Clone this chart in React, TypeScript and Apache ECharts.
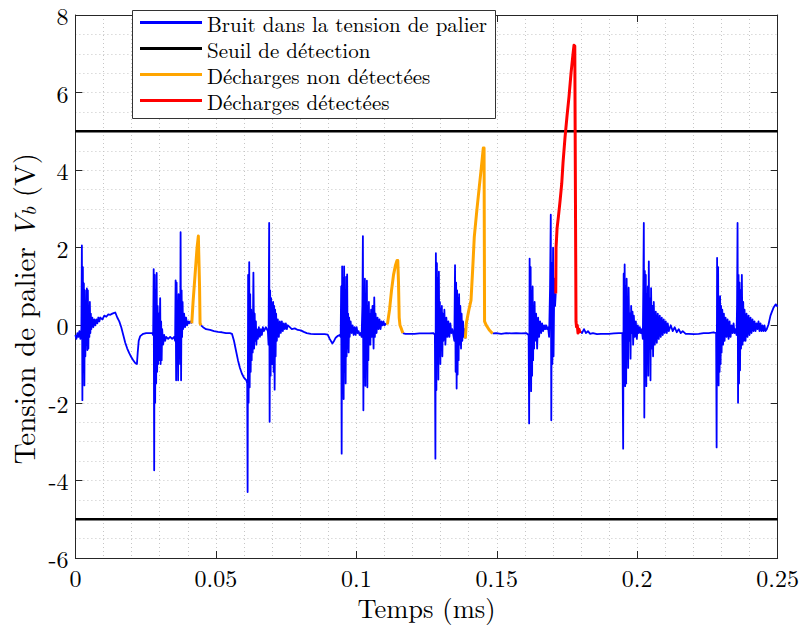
import React, { useEffect, useRef } from 'react';
import * as echarts from 'echarts';

// Time in ms, voltage in V
const noiseSeg1: [number, number][] = [
  [0, -0.25], [0.00036, -0.35], [0.00071, -0.2], [0.00107, -0.3], [0.00142, -0.15], [0.00178, -0.35],
  [0.00213, -0.1], [0.00231, 2.06], [0.00249, -1.93], [0.00266, 1.5], [0.00284, -1.2], [0.00302, 1.08],
  [0.0032, -1.55], [0.00337, 0.9], [0.00355, -0.8], [0.00373, 0.6], [0.00391, -0.5], [0.00408, 0.95],
  [0.00426, -0.64], [0.00444, 0.9], [0.00462, -0.6], [0.00479, 0.5], [0.00497, -0.3], [0.00515, 0.6],
  [0.00533, -0.2], [0.0055, 0.3], [0.00568, -0.1], [0.00604, 0.2], [0.00639, -0.05], [0.00675, 0.15],
  [0.0071, 0.0], [0.00746, 0.15], [0.00781, 0.05], [0.00817, 0.2], [0.00852, 0.1], [0.00888, 0.2],
  [0.00959, 0.15], [0.0103, 0.25], [0.011, 0.22], [0.01172, 0.28], [0.01243, 0.27], [0.01314, 0.3],
  [0.01385, 0.32], [0.0142, 0.33], [0.01491, 0.2], [0.01562, 0.1], [0.01633, -0.05], [0.01704, -0.25],
  [0.01775, -0.45], [0.01846, -0.6], [0.01917, -0.72], [0.01988, -0.82], [0.02059, -0.9], [0.0213, -0.97],
  [0.0219, -1.0], [0.02219, -0.7], [0.02254, -0.4], [0.02308, -0.28], [0.02414, -0.22], [0.02521, -0.2],
  [0.02627, -0.2], [0.02734, -0.2], [0.02769, -0.25], [0.02787, 1.45], [0.02805, -3.74], [0.02822, 1.3],
  [0.0284, -2.0], [0.02858, 0.9], [0.02876, -1.5], [0.02893, 1.35], [0.02911, -1.2], [0.02929, 0.5],
  [0.02947, -1.0], [0.02964, 0.3], [0.02982, -0.9], [0.03018, 0.7], [0.03035, -1.0], [0.03053, 0.1],
  [0.03071, -0.9], [0.03089, -0.1], [0.03124, -0.5], [0.0316, -0.25], [0.03195, -0.4], [0.03231, -0.3],
  [0.03302, -0.35], [0.03373, -0.3], [0.03444, -0.35], [0.03515, -0.3], [0.0355, -0.4], [0.03568, 1.16],
  [0.03586, -1.42], [0.03603, 1.1], [0.03621, -0.5], [0.03639, 0.6], [0.03657, -1.42], [0.03674, 0.8],
  [0.03692, -0.2], [0.0371, 0.3], [0.03728, -1.0], [0.03745, 2.4], [0.03763, -1.42], [0.03781, 0.9],
  [0.03799, -0.3], [0.03816, 0.6], [0.03834, -0.1], [0.0387, 0.3], [0.03905, -0.05], [0.03941, 0.2],
  [0.03976, 0.0], [0.04012, 0.1], [0.04047, 0.05], [0.04083, 0.1], [0.04143, 0.05],
];

const noiseSeg2: [number, number][] = [
  [0.04473, 0.0], [0.04544, -0.05], [0.04651, -0.1], [0.04793, -0.12], [0.04935, -0.15], [0.05077, -0.17],
  [0.05219, -0.18], [0.0536, -0.2], [0.05503, -0.2], [0.05574, -0.22], [0.05645, -0.4], [0.05716, -0.65],
  [0.05787, -0.9], [0.05858, -1.1], [0.05929, -1.25], [0.06, -1.35], [0.06088, -1.42], [0.06117, -1.5],
  [0.06131, -4.3], [0.06149, 1.3], [0.06166, -2.0], [0.06188, 1.63], [0.06205, -1.6], [0.06223, 0.8],
  [0.06241, -1.2], [0.06259, 0.4], [0.06276, -0.9], [0.06294, 0.3], [0.06312, -0.7], [0.06337, 1.36],
  [0.06362, -0.6], [0.06383, 0.3], [0.06401, -0.4], [0.06426, 0.1], [0.06443, -0.5], [0.06461, -0.1],
  [0.06497, -0.35], [0.06532, -0.05], [0.06568, -0.3], [0.06603, -0.1], [0.06639, -0.25], [0.06674, -0.05],
  [0.0671, -0.15], [0.06781, -0.05], [0.06852, -0.15], [0.06876, -0.5], [0.06898, 2.64], [0.06915, -2.49],
  [0.06933, 0.9], [0.06951, -1.3], [0.06969, 0.7], [0.06986, -1.0], [0.07004, 0.56], [0.07022, -1.0],
  [0.0704, 0.6], [0.07057, -1.2], [0.07075, 0.5], [0.07093, -1.66], [0.07111, 0.4], [0.07128, -0.8],
  [0.07146, 0.3], [0.07171, -0.4], [0.07207, 0.15], [0.07242, -0.3], [0.07278, 0.1], [0.07313, -0.2],
  [0.07349, 0.1], [0.07384, -0.15], [0.0742, 0.05], [0.07455, -0.1], [0.07491, 0.05], [0.07526, -0.1],
  [0.07562, 0.0], [0.07633, -0.05], [0.07704, -0.1], [0.0781, -0.08], [0.07917, -0.12], [0.08023, -0.13],
  [0.0813, -0.17], [0.08236, -0.2], [0.08378, -0.22], [0.0852, -0.23], [0.08698, -0.23], [0.08875, -0.23],
  [0.08982, -0.24], [0.09053, -0.35], [0.09148, -0.47], [0.09195, -0.42], [0.09266, -0.32], [0.09347, -0.27],
  [0.09408, -0.25], [0.09443, -0.3], [0.09461, 1.0], [0.09479, -3.31], [0.09496, 1.52], [0.09514, -1.5],
  [0.09532, 1.2], [0.0955, -1.9], [0.09567, 1.52], [0.09585, -1.2], [0.09603, 0.9], [0.09621, -1.5],
  [0.09638, 1.25], [0.09656, -0.8], [0.09674, 1.31], [0.09692, -0.6], [0.09709, 0.3], [0.09727, -0.7],
  [0.09745, 0.2], [0.09763, -0.3], [0.09798, 0.1], [0.09834, -0.2], [0.09869, 0.0], [0.09905, -0.25],
  [0.0994, -0.05], [0.09976, -0.25], [0.10011, -0.05], [0.10047, -0.2], [0.10082, -0.15], [0.10118, -0.25],
  [0.10153, -0.2], [0.10189, -0.3], [0.10217, 0.5], [0.10235, 2.3], [0.10252, -2.19], [0.1027, 0.9],
  [0.10288, -1.0], [0.10306, 1.2], [0.10323, -1.56], [0.10341, 0.7], [0.10359, -0.4], [0.10377, 1.15],
  [0.10394, -1.6], [0.10412, 0.5], [0.1043, -0.9], [0.10448, 0.6], [0.10465, -0.5], [0.10483, 0.3],
  [0.10501, -0.5], [0.10526, 0.4], [0.10544, -0.3], [0.10579, 0.5], [0.10615, -0.6], [0.10639, 0.72],
  [0.10661, -0.3], [0.10686, 0.3], [0.10721, -0.2], [0.10757, 0.2], [0.10792, -0.1], [0.10828, 0.15],
  [0.10863, -0.1], [0.10899, 0.1], [0.10934, 0.0], [0.1097, 0.1], [0.11005, 0.0], [0.11065, 0.05],
];

const noiseSeg3: [number, number][] = [
  [0.11655, -0.2], [0.11751, -0.22], [0.11893, -0.22], [0.1207, -0.22], [0.12248, -0.21], [0.12425, -0.21],
  [0.12603, -0.21], [0.12745, -0.2], [0.12798, -0.25], [0.12816, -3.44], [0.12833, 1.86], [0.12851, -1.67],
  [0.12869, 1.6], [0.12887, -0.9], [0.12904, 1.2], [0.12922, -1.4], [0.1294, 1.38], [0.12958, -0.8],
  [0.12975, 0.6], [0.12993, -1.0], [0.13011, 0.4], [0.13029, -0.6], [0.13046, 0.5], [0.13064, -0.8],
  [0.13082, 0.3], [0.131, -0.4], [0.13135, 0.4], [0.13171, -0.5], [0.13206, 0.2], [0.13242, -0.3],
  [0.13277, 0.1], [0.13313, -0.3], [0.13348, 0.05], [0.13384, -0.2], [0.13419, -0.1], [0.13455, -0.25],
  [0.1349, -0.4], [0.13515, 1.55], [0.13536, -1.2], [0.13554, 1.1], [0.13572, -1.63], [0.13589, 0.9],
  [0.13607, -1.27], [0.13625, 0.7], [0.13643, -0.9], [0.1366, 0.8], [0.13678, -0.5], [0.13703, 0.5],
  [0.13728, -0.6], [0.13749, 0.3], [0.13774, -0.4], [0.13799, 0.1], [0.13827, -0.3], [0.13856, -0.1],
  [0.13881, -0.34],
];

const noiseSeg4: [number, number][] = [
  [0.1485, -0.21], [0.14981, -0.2], [0.15159, -0.22], [0.15336, -0.2], [0.15514, -0.21], [0.15691, -0.2],
  [0.15869, -0.21], [0.16046, -0.2], [0.16135, -0.25], [0.16153, -2.53], [0.1617, 1.72], [0.16188, -1.0],
  [0.16206, 1.5], [0.16224, -1.7], [0.16241, 0.9], [0.16259, -1.3], [0.16277, 1.0], [0.16295, -0.9],
  [0.16312, 0.5], [0.1633, -0.6], [0.16348, 0.6], [0.16366, -0.4], [0.16401, 0.3], [0.16437, -0.6],
  [0.16472, 0.2], [0.16508, -0.3], [0.16543, 0.1], [0.16579, -0.2], [0.16614, 0.05], [0.1665, -0.15],
  [0.16685, 0.0], [0.16721, -0.1], [0.16756, 0.0], [0.16792, -0.1], [0.16827, -0.05], [0.16863, -0.3],
  [0.16898, 1.0], [0.16923, 2.85], [0.16941, -2.45], [0.16962, 1.6], [0.1698, -1.0], [0.17005, 2.0],
  [0.17022, -0.8], [0.1705, 1.2], [0.17076, 0.5], [0.171, 0.82],
];

const noiseSeg5: [number, number][] = [
  [0.17963, -0.15], [0.18034, -0.2], [0.18105, -0.1], [0.18176, -0.2], [0.18247, -0.15], [0.18318, -0.22],
  [0.18425, -0.2], [0.18567, -0.23], [0.18709, -0.22], [0.18851, -0.22], [0.18993, -0.22], [0.1917, -0.21],
  [0.19348, -0.2], [0.19472, -0.2], [0.195, -3.18], [0.19518, 1.33], [0.19536, -1.0], [0.19553, 1.57],
  [0.19571, -1.57], [0.19589, 1.0], [0.19607, -1.5], [0.19624, 1.2], [0.19642, -0.7], [0.1966, 0.5],
  [0.19678, -1.1], [0.19695, 0.97], [0.1972, -0.4], [0.19745, 0.3], [0.19763, -0.86], [0.19784, 0.5],
  [0.19809, -0.2], [0.19834, 0.35], [0.19855, -0.5], [0.1988, 0.25], [0.19916, -0.3], [0.19951, 0.1],
  [0.19987, -0.35], [0.20022, 0.0], [0.20058, -0.2], [0.20093, -0.05], [0.20129, -0.2], [0.20164, -0.1],
  [0.202, -0.35], [0.20217, 1.0], [0.20235, 2.64], [0.20253, -2.38], [0.20271, 1.4], [0.20288, -1.2],
  [0.20306, 1.3], [0.20324, -1.57], [0.20342, 0.8], [0.20359, -0.9], [0.20377, 1.0], [0.20395, -1.3],
  [0.20413, 1.65], [0.2043, -0.5], [0.20448, 0.7], [0.20473, -1.42], [0.20494, 0.96], [0.20519, -0.6],
  [0.20544, 0.5], [0.20565, -0.8], [0.2059, 0.6], [0.20626, -0.5], [0.20661, 0.35], [0.20697, -0.45],
  [0.20732, 0.3], [0.20768, -0.35], [0.20803, 0.25], [0.20839, -0.3], [0.20874, 0.2], [0.2091, -0.25],
  [0.20945, 0.15], [0.20981, -0.2], [0.21016, 0.1], [0.21052, -0.2], [0.21087, 0.05], [0.21123, -0.15],
  [0.21194, 0.0], [0.21265, -0.15], [0.21336, -0.05], [0.21407, -0.18], [0.21478, -0.1], [0.21549, -0.2],
  [0.2162, -0.15], [0.21726, -0.22], [0.21833, -0.22], [0.2201, -0.23], [0.22188, -0.22], [0.22365, -0.2],
  [0.22543, -0.2], [0.2272, -0.18], [0.22809, -0.2], [0.22827, -3.15], [0.22844, 1.74], [0.22862, -1.0],
  [0.2288, 1.5], [0.22898, -1.55], [0.22915, 0.7], [0.22933, -1.2], [0.22951, 0.75], [0.22969, -1.0],
  [0.22986, 0.5], [0.23004, -0.7], [0.23029, 0.4], [0.23057, -0.5], [0.23086, 0.3], [0.23111, -0.4],
  [0.23146, 0.2], [0.23182, -0.3], [0.23217, 0.15], [0.23253, -0.35], [0.23288, 0.1], [0.23324, -0.3],
  [0.23359, 0.0], [0.23395, -0.2], [0.2343, 0.05], [0.23466, -0.2], [0.23501, -0.1], [0.23537, -0.25],
  [0.23554, 0.5], [0.23572, 2.64], [0.2359, -2.0], [0.23608, 1.3], [0.23625, -1.5], [0.23643, 1.1],
  [0.23661, -1.16], [0.23679, 0.9], [0.23696, -0.6], [0.23725, 1.3], [0.2375, -0.5], [0.23774, 0.6],
  [0.23796, -0.4], [0.23821, 0.4], [0.23856, -0.4], [0.23892, 0.3], [0.23927, -0.3], [0.23963, 0.25],
  [0.23998, -0.25], [0.24034, 0.2], [0.24069, -0.2], [0.24105, 0.15], [0.2414, -0.15], [0.24176, 0.1],
  [0.24211, -0.15], [0.24247, 0.05], [0.24282, -0.1], [0.24318, 0.1], [0.24353, -0.15], [0.24389, 0.05],
  [0.24424, -0.15], [0.2446, 0.0], [0.24495, -0.15], [0.24531, 0.0], [0.24566, -0.15], [0.24612, -0.1],
  [0.24673, 0.02], [0.24744, 0.25], [0.2479, 0.34], [0.2485, 0.45], [0.24932, 0.54], [0.25, 0.48],
];

const undetected1: [number, number][] = [
  [0.04143, 0.05], [0.04189, 0.6], [0.0426, 1.3], [0.04331, 2.0], [0.04377, 2.3], [0.04402, 2.3],
  [0.0442, 1.0], [0.04438, 0.05], [0.04473, 0.0],
];
const undetected2: [number, number][] = [
  [0.11065, 0.05], [0.11112, 0.05], [0.11183, 0.4], [0.11254, 0.9], [0.11325, 1.3], [0.11396, 1.55],
  [0.11449, 1.67], [0.11477, 1.67], [0.11502, 1.1], [0.11527, 0.2], [0.11555, 0.0], [0.11609, -0.1],
  [0.11655, -0.2],
];
const undetected3: [number, number][] = [
  [0.13881, -0.34], [0.13916, 0.05], [0.13969, 0.25], [0.14023, 0.45], [0.14083, 0.64], [0.14147, 1.5],
  [0.142, 2.28], [0.14289, 2.95], [0.14378, 3.57], [0.14449, 4.05], [0.1452, 4.57], [0.14548, 4.57],
  [0.14566, 0.1], [0.14626, 0.0], [0.14733, -0.12], [0.1485, -0.21],
];
const detected1: [number, number][] = [
  [0.171, 0.82], [0.17111, 2.0], [0.17147, 2.5], [0.17193, 2.79], [0.17253, 3.2], [0.17313, 3.65],
  [0.1736, 4.2], [0.17431, 4.85], [0.17502, 5.4], [0.17573, 5.9], [0.17644, 6.5], [0.17715, 7.0],
  [0.1775, 7.22], [0.17778, 7.2], [0.17803, 3.0], [0.17821, 0.1], [0.17839, -0.04], [0.17867, 0.0],
  [0.17892, -0.2], [0.17928, -0.1], [0.17963, -0.2],
];

const thresholdUpper: [number, number][] = [[0, 5], [0.25, 5]];
const thresholdLower: [number, number][] = [[0, -5], [0.25, -5]];

const noiseSegments = [noiseSeg1, noiseSeg2, noiseSeg3, noiseSeg4, noiseSeg5];
const undetectedSegments = [undetected1, undetected2, undetected3];
const detectedSegments = [detected1];

const NAME_NOISE = 'Bruit dans la tension de palier';
const NAME_THRESH = 'Seuil de détection';
const NAME_UNDET = 'Décharges non détectées';
const NAME_DET = 'Décharges détectées';

const FONT = 'Latin Modern Roman';
const AXIS_COLOR = '#262626';
const GRID_STYLE = { color: '#c6c6c6', width: 1, type: [1, 3] as number[] };

export default function App() {
  const ref = useRef<HTMLDivElement>(null);

  useEffect(() => {
    if (!ref.current) return;
    const chart = echarts.init(ref.current, null, { renderer: 'svg' });

    const lineSeries = (name: string, data: [number, number][], color: string, width: number, z: number) => ({
      type: 'line',
      name,
      data,
      showSymbol: false,
      symbol: 'none',
      silent: true,
      z,
      lineStyle: { color, width, join: 'round' },
      itemStyle: { color },
      xAxisIndex: 0,
      yAxisIndex: 0,
    });

    const series: any[] = [];
    noiseSegments.forEach((s) => series.push(lineSeries(NAME_NOISE, s, '#0000ff', 1.8, 3)));
    series.push(lineSeries(NAME_THRESH, thresholdUpper, '#000000', 2.5, 4));
    series.push(lineSeries(NAME_THRESH, thresholdLower, '#000000', 2.5, 4));
    undetectedSegments.forEach((s) => series.push(lineSeries(NAME_UNDET, s, '#ffa500', 3, 5)));
    detectedSegments.forEach((s) => series.push(lineSeries(NAME_DET, s, '#ff0000', 3, 6)));

    const option: any = {
      animation: false,
      backgroundColor: '#ffffff',
      textStyle: { fontFamily: FONT },
      grid: { left: 75, right: 23, top: 15, bottom: 70, containLabel: false },
      xAxis: [
        {
          type: 'value', min: 0, max: 0.25, interval: 0.05, position: 'bottom',
          axisLine: { show: true, onZero: false, lineStyle: { color: AXIS_COLOR, width: 1 } },
          axisTick: { show: true, inside: true, length: 7, lineStyle: { color: AXIS_COLOR } },
          axisLabel: { color: '#000', fontFamily: FONT, fontSize: 24, lineHeight: 22, margin: 8 },
          splitLine: { show: true, lineStyle: GRID_STYLE },
          minorTick: { show: false, splitNumber: 5 },
          minorSplitLine: { show: true, lineStyle: GRID_STYLE },
          name: 'Temps (ms)', nameLocation: 'middle', nameGap: 34,
          nameTextStyle: { fontFamily: FONT, fontSize: 26.5, color: '#000' },
        },
        {
          type: 'value', min: 0, max: 0.25, interval: 0.05, position: 'top',
          axisLine: { show: true, onZero: false, lineStyle: { color: AXIS_COLOR, width: 1 } },
          axisTick: { show: true, inside: true, length: 7, lineStyle: { color: AXIS_COLOR } },
          axisLabel: { show: false },
          splitLine: { show: false },
        },
      ],
      yAxis: [
        {
          type: 'value', min: -6, max: 8, interval: 2, position: 'left',
          axisLine: { show: true, onZero: false, lineStyle: { color: AXIS_COLOR, width: 1 } },
          axisTick: { show: true, inside: true, length: 7, lineStyle: { color: AXIS_COLOR } },
          axisLabel: { color: '#000', fontFamily: FONT, fontSize: 24, lineHeight: 20, margin: 7 },
          splitLine: { show: true, lineStyle: GRID_STYLE },
          minorTick: { show: false, splitNumber: 4 },
          minorSplitLine: { show: true, lineStyle: GRID_STYLE },
          name: '{n|Tension de palier }{i|V}{s|b}{n| (V)}',
          nameLocation: 'middle', nameGap: 33, nameRotate: 90,
          nameTextStyle: {
            fontFamily: FONT, fontSize: 29, color: '#000',
            padding: [0, 44, 0, 0],
            rich: {
              n: { fontFamily: FONT, fontSize: 29, color: '#000', lineHeight: 30, verticalAlign: 'middle' },
              i: { fontFamily: FONT, fontSize: 29, color: '#000', fontStyle: 'italic', lineHeight: 30, verticalAlign: 'middle' },
              s: { fontFamily: FONT, fontSize: 20, color: '#000', fontStyle: 'italic', lineHeight: 14, verticalAlign: 'bottom' },
            },
          },
        },
        {
          type: 'value', min: -6, max: 8, interval: 2, position: 'right',
          axisLine: { show: true, onZero: false, lineStyle: { color: AXIS_COLOR, width: 1 } },
          axisTick: { show: true, inside: true, length: 7, lineStyle: { color: AXIS_COLOR } },
          axisLabel: { show: false },
          splitLine: { show: false },
        },
      ],
      legend: {
        show: true,
        data: [NAME_NOISE, NAME_THRESH, NAME_UNDET, NAME_DET],
        orient: 'vertical',
        left: 140, top: 12,
        padding: 0,
        itemWidth: 62, itemHeight: 3, itemGap: 5,
        icon: 'rect',
        selectedMode: false,
        textStyle: { fontFamily: FONT, fontSize: 21, lineHeight: 21, color: '#000' },
        z: 20,
      },
      graphic: {
        z: 15,
        elements: [
          {
            type: 'rect', left: 132, top: 10, z: 15,
            shape: { width: 363, height: 108 },
            style: { fill: '#ffffff', stroke: '#333333', lineWidth: 1 },
          },
        ],
      },
      series,
    };

    chart.setOption(option);
    return () => chart.dispose();
  }, []);

  return (
    <div
      ref={ref}
      style={{ position: 'fixed', left: 0, top: 0, width: 802, height: 628, background: '#fff' }}
    />
  );
}
